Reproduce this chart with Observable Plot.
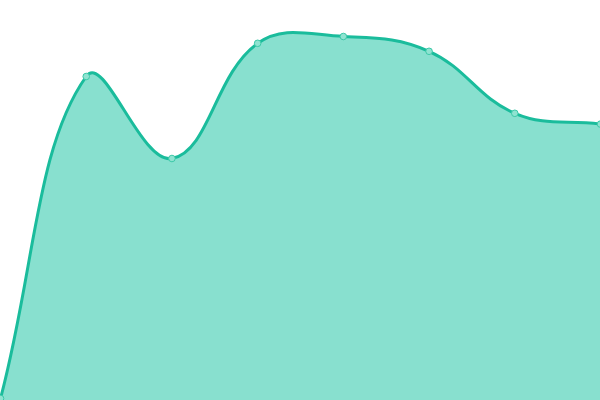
<!DOCTYPE html>
<html><head><meta charset="utf-8">
<style>html,body{margin:0;padding:0;background:#fff;overflow:hidden}</style>
<script src="https://cdn.jsdelivr.net/npm/d3@7"></script>
<script src="https://cdn.jsdelivr.net/npm/@observablehq/plot@0.6"></script>
</head><body><div id="chart"></div>
<script>
const labels = [0, 1, 2, 3, 4, 5, 6, 7];
const values = [0.5, 81, 60.5, 89.3, 91, 87.3, 71.8, 69.1];
const data = labels.map((x, i) => ({x, v: values[i]}));

// Tension spline with distance weighting (tension 0.4), control points clamped to the plot area
function SplineCurve(context) { this._context = context; }
SplineCurve.prototype = {
  areaStart() { this._line = 0; },
  areaEnd() { this._line = NaN; },
  lineStart() { this._pts = []; },
  point(x, y) { this._pts.push([+x, +y]); },
  lineEnd() {
    const p = this._pts, n = p.length, c = this._context, t = 0.4;
    const clamp = (v, lo, hi) => Math.max(lo, Math.min(hi, v));
    if (n) {
      if (this._line) c.lineTo(p[0][0], p[0][1]); else c.moveTo(p[0][0], p[0][1]);
      const cps = p.map((cur, i) => {
        const prev = p[i - 1] || cur, next = p[i + 1] || cur;
        const d01 = Math.hypot(cur[0] - prev[0], cur[1] - prev[1]);
        const d12 = Math.hypot(next[0] - cur[0], next[1] - cur[1]);
        let s01 = d01 / (d01 + d12), s12 = d12 / (d01 + d12);
        if (!isFinite(s01)) s01 = 0; if (!isFinite(s12)) s12 = 0;
        const fa = t * s01, fb = t * s12;
        const pc = [cur[0] - fa * (next[0] - prev[0]), cur[1] - fa * (next[1] - prev[1])];
        const nc = [cur[0] + fb * (next[0] - prev[0]), cur[1] + fb * (next[1] - prev[1])];
        return {pc: [clamp(pc[0], 0, 600), clamp(pc[1], 0, 400)], nc: [clamp(nc[0], 0, 600), clamp(nc[1], 0, 400)]};
      });
      for (let i = 1; i < n; i++) {
        const a = cps[i - 1].nc, b = cps[i].pc;
        c.bezierCurveTo(a[0], a[1], b[0], b[1], p[i][0], p[i][1]);
      }
    }
    if (this._line || (this._line !== 0 && n === 1)) c.closePath();
    this._line = 1 - this._line;
  }
};
const curve = (ctx) => new SplineCurve(ctx);

const chart = Plot.plot({
  width: 600, height: 400,
  margin: 0,
  x: {domain: [0, 7], axis: null},
  y: {domain: [0, 100], axis: null},
  marks: [
    Plot.areaY(data, {x: "x", y: "v", fill: "#88e0cf", curve}),
    Plot.lineY(data, {x: "x", y: "v", stroke: "#1abc9c", strokeWidth: 3, curve}),
    Plot.dot(data, {x: "x", y: "v", r: 3.3, fill: "#8fe3d1", stroke: "#3cc9a8", strokeWidth: 1})
  ]
});
chart.style.overflow = "visible";
document.getElementById("chart").append(chart);
</script></body></html>
